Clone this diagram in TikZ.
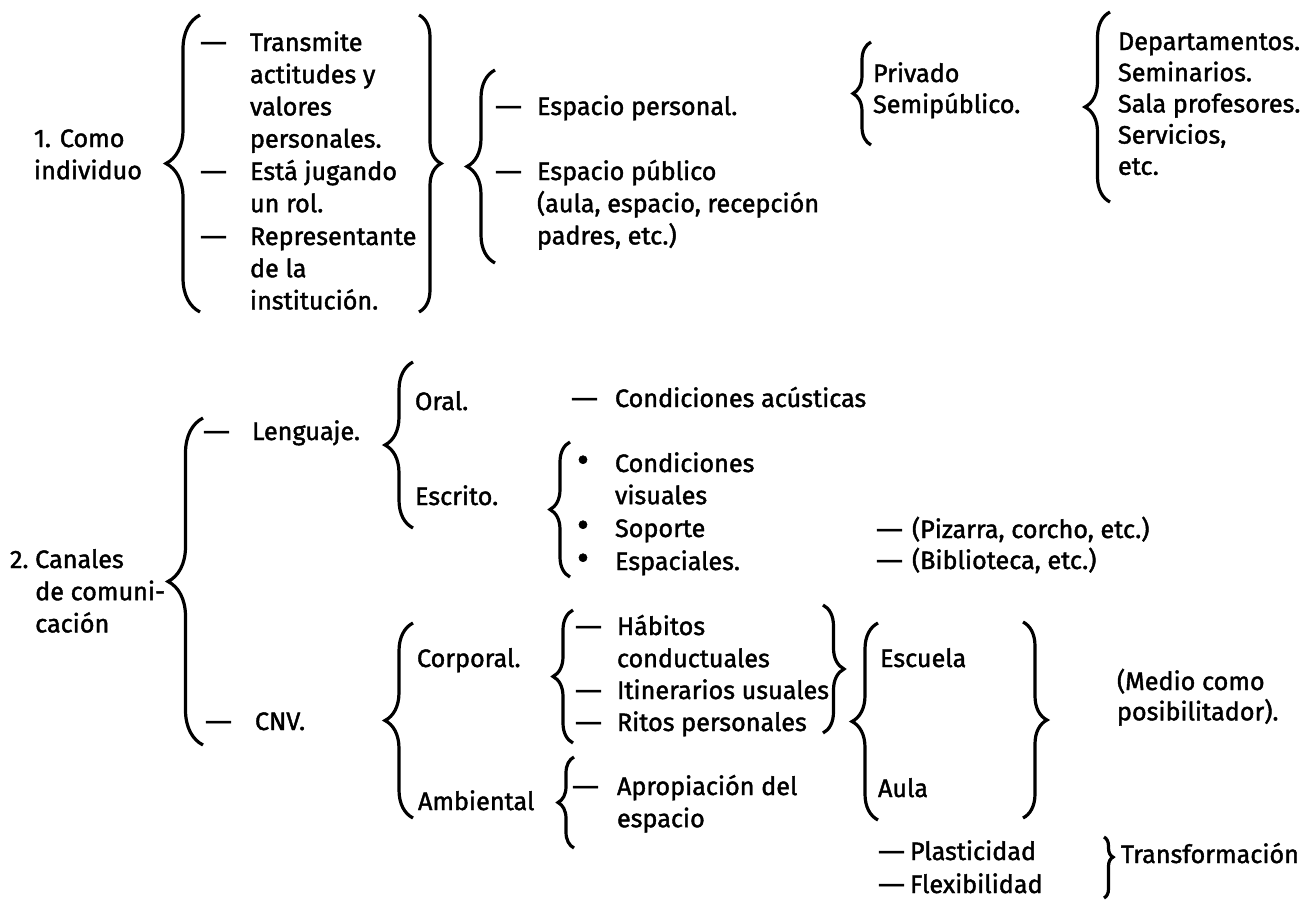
\documentclass[tikz,border=0pt]{standalone}
\usepackage{fontspec}
\setmainfont{Fira Sans}[FakeBold=1.6]
\usetikzlibrary{
  decorations.pathreplacing,   % the curly braces
  positioning                  % dashes and bullets left of the items
}
% lines of one item, first baseline on the node's base
\newcommand\itemlines[1]{\begin{tabular}[t]{@{}l@{}}#1\end{tabular}}
\tikzset{
  x=0.5pt, y=-0.5pt,
  every node/.style = {inner sep=0pt, outer sep=0pt},
  txt/.style = {anchor=base west, font=\fontsize{12.6}{16.1}\selectfont},
  dashmark/.style = {anchor=base east, font=\fontsize{12.6}{16.1}\selectfont},
  bulletmark/.style = {anchor=base, font=\fontsize{18}{16.1}\selectfont},
  brace/.style = {draw, line width=1.6pt, decorate, decoration={brace, amplitude=#1}},
  brace/.default = 10pt,
  tipped/.style = {decoration={aspect=#1}}
}
\newcommand\longdash{\scalebox{1.35}[1]{—}}

\begin{document}
\begin{tikzpicture}
\useasboundingbox (0,0) rectangle (1313,900);

% 1. Como individuo
\node[txt] (como) at (34,147) {\itemlines{1. Como\\individuo}};
\node[txt] (transmite) at (250,51) {\itemlines{Transmite\\actitudes y\\valores\\personales.}};
\node[txt] (rol) at (250,180) {\itemlines{Está jugando\\un rol.}};
\node[txt] (repr) at (250,245) {\itemlines{Representante\\de la\\institución.}};
\node[left=11.5pt of transmite.base west, dashmark] {\longdash};
\node[left=11.5pt of rol.base west, dashmark] {\longdash};
\node[left=11.5pt of repr.base west, dashmark] {\longdash};
\draw[brace=17pt] (200,312) -- (200,15);
\draw[brace=11pt] (419,15) -- (419,312);

\node[txt] (esp-pers) at (537,115) {Espacio personal.};
\node[txt] (esp-pub) at (537,180) {\itemlines{Espacio público\\(aula, espacio, recepción\\padres, etc.)}};
\node[left=7.5pt of esp-pers.base west, dashmark] {\longdash};
\node[left=7.5pt of esp-pub.base west, dashmark] {\longdash};
\draw[brace=14pt] (495,263) -- (495,70);

\node[txt, font=\fontsize{12.6}{15.5}\selectfont] (privado) at (873,82) {\itemlines{Privado\\Semipúblico.}};
\draw[brace=9pt] (871,145) -- (871,42);

\node[txt, font=\fontsize{12.6}{15.6}\selectfont] (deptos) at (1118,50)
  {\itemlines{Departamentos.\\Seminarios.\\Sala profesores.\\Servicios,\\etc.}};
\draw[brace=12.5pt] (1110,202) -- (1110,12);

% 2. Canales de comunicacion
\node[txt] (canales) at (10,568) {\itemlines{2.~Canales\\\phantom{2.~}de comuni-\\\phantom{2.~}cación}};
\draw[brace=17.5pt] (203,745) -- (203,418);
\node[txt] (lenguaje) at (252,440) {Lenguaje.};
\node[txt] (cnv) at (255,730) {CNV.};
\node[left=11pt of lenguaje.base west, dashmark] {\longdash};
\node[left=11.5pt of cnv.base west, dashmark] {\longdash};

% Lenguaje
\draw[brace=14pt] (413,528) -- (413,362);
\node[txt] (oral) at (415,410) {Oral.};
\node[txt] (escrito) at (415,505) {Escrito.};
\node[txt] (acusticas) at (615,407) {Condiciones acústicas};
\node[left=8.5pt of acusticas.base west, dashmark] {\longdash};

\draw[brace=10pt] (570,577) -- (570,442);
\node[txt] (visuales) at (615,472) {\itemlines{Condiciones\\visuales}};
\node[txt] (soporte) at (615,537) {Soporte};
\node[txt] (espaciales) at (615,570) {Espaciales.};
\node[left=16pt of visuales.base west, bulletmark] {•};
\node[left=16pt of soporte.base west, bulletmark] {•};
\node[left=16pt of espaciales.base west, bulletmark] {•};
\node[txt] (pizarra) at (912,538) {(Pizarra, corcho, etc.)};
\node[txt] (biblioteca) at (912,569) {(Biblioteca, etc.)};
\node[left=4.5pt of pizarra.base west, dashmark] {\longdash};
\node[left=4.5pt of biblioteca.base west, dashmark] {\longdash};

% CNV
\draw[brace=14pt] (413,818) -- (413,623);
\node[txt] (corporal) at (417,667) {Corporal.};
\node[txt] (ambiental) at (418,810) {Ambiental};

\draw[brace=10pt] (573,743) -- (573,610);
\node[txt] (habitos) at (617,635) {\itemlines{Hábitos\\conductuales}};
\node[txt] (itinerarios) at (617,699) {Itinerarios usuales};
\node[txt] (ritos) at (617,731) {Ritos personales};
\node[left=7.5pt of habitos.base west, dashmark] {\longdash};
\node[left=7.5pt of itinerarios.base west, dashmark] {\longdash};
\node[left=7.5pt of ritos.base west, dashmark] {\longdash};
\draw[brace=10.5pt] (823,605) -- (823,733);

\draw[brace=8pt] (574,848) -- (574,757);
\node[txt] (apropiacion) at (617,795) {\itemlines{Apropiación del\\espacio}};
\node[left=9pt of apropiacion.base west, dashmark] {\longdash};

\draw[brace=13pt] (878,820) -- (878,623);
\node[txt] (escuela) at (880,667) {Escuela};
\node[txt] (aula) at (878,797) {Aula};
\draw[brace=12pt] (1023,622) -- (1023,818);
\node[txt, font=\fontsize{12.6}{15}\selectfont] (medio) at (1117,690) {\itemlines{(Medio como\\posibilitador).}};

\node[txt] (plasticidad) at (910,860) {Plasticidad};
\node[txt] (flexibilidad) at (910,893) {Flexibilidad};
\node[left=2.5pt of plasticidad.base west, dashmark] {\longdash};
\node[left=2.5pt of flexibilidad.base west, dashmark] {\longdash};
\draw[brace=4.5pt, tipped=0.33] (1104,837) -- (1104,898);
\node[txt] (transformacion) at (1121,863) {Transformación};
\end{tikzpicture}
\end{document}
